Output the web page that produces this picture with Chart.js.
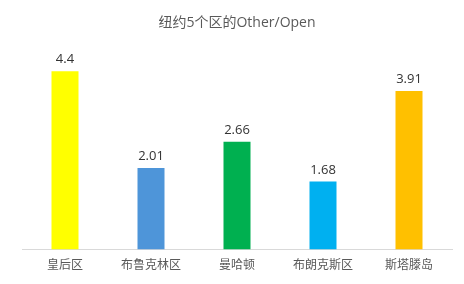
<!DOCTYPE html>
<html><head><meta charset="utf-8">
<script src="https://cdn.jsdelivr.net/npm/chart.js@4"></script>
<style>html,body{margin:0;padding:0;background:#fff}#wrap{width:464px;height:284px}</style>
</head><body><div id="wrap"><canvas id="c" width="464" height="284"></canvas></div>
<script>
const categories = ["皇后区", "布鲁克林区", "曼哈顿", "布朗克斯区", "斯塔滕岛"];
const values = [4.4, 2.01, 2.66, 1.68, 3.91];
const valueLabels = ["4.4", "2.01", "2.66", "1.68", "3.91"];
const colors = ["#FFFF00", "#4E95D9", "#00B050", "#00B0F0", "#FFC000"];
const titleText = "纽约5个区的Other/Open";

const labelPlugin = {
  id: 'vlabels',
  afterDatasetsDraw(chart) {
    const ctx = chart.ctx;
    const meta = chart.getDatasetMeta(0);
    ctx.save();
    ctx.font = '13px "Open Sans", "Noto Sans", sans-serif';
    ctx.fillStyle = '#333333';
    ctx.textAlign = 'center';
    ctx.textBaseline = 'bottom';
    meta.data.forEach((bar, i) => {
      ctx.fillText(valueLabels[i], bar.x, bar.y - 5);
    });
    ctx.restore();
  }
};

new Chart(document.getElementById('c'), {
  type: 'bar',
  data: {
    labels: categories,
    datasets: [{ data: values, backgroundColor: colors, borderWidth: 0,
      barPercentage: 0.314, categoryPercentage: 1 }]
  },
  options: {
    responsive: false,
    animation: false,
    devicePixelRatio: 1,
    layout: { padding: { left: 22, right: 12, top: 0, bottom: 4 } },
    plugins: {
      legend: { display: false },
      tooltip: { enabled: false },
      title: { display: true, text: titleText, color: '#595959',
        font: { size: 14, family: '"Open Sans", "Noto Sans CJK SC", sans-serif', weight: 'normal' },
        padding: { top: 15, bottom: 15 } }
    },
    scales: {
      y: { display: false, min: 0, max: 5 },
      x: {
        grid: { display: false, drawTicks: false },
        border: { display: true, color: '#D9D9D9', width: 1 },
        ticks: { color: '#595959', padding: 8,
          font: { size: 12, family: '"Noto Sans CJK SC", sans-serif' } }
      }
    }
  },
  plugins: [labelPlugin]
});
</script></body></html>
